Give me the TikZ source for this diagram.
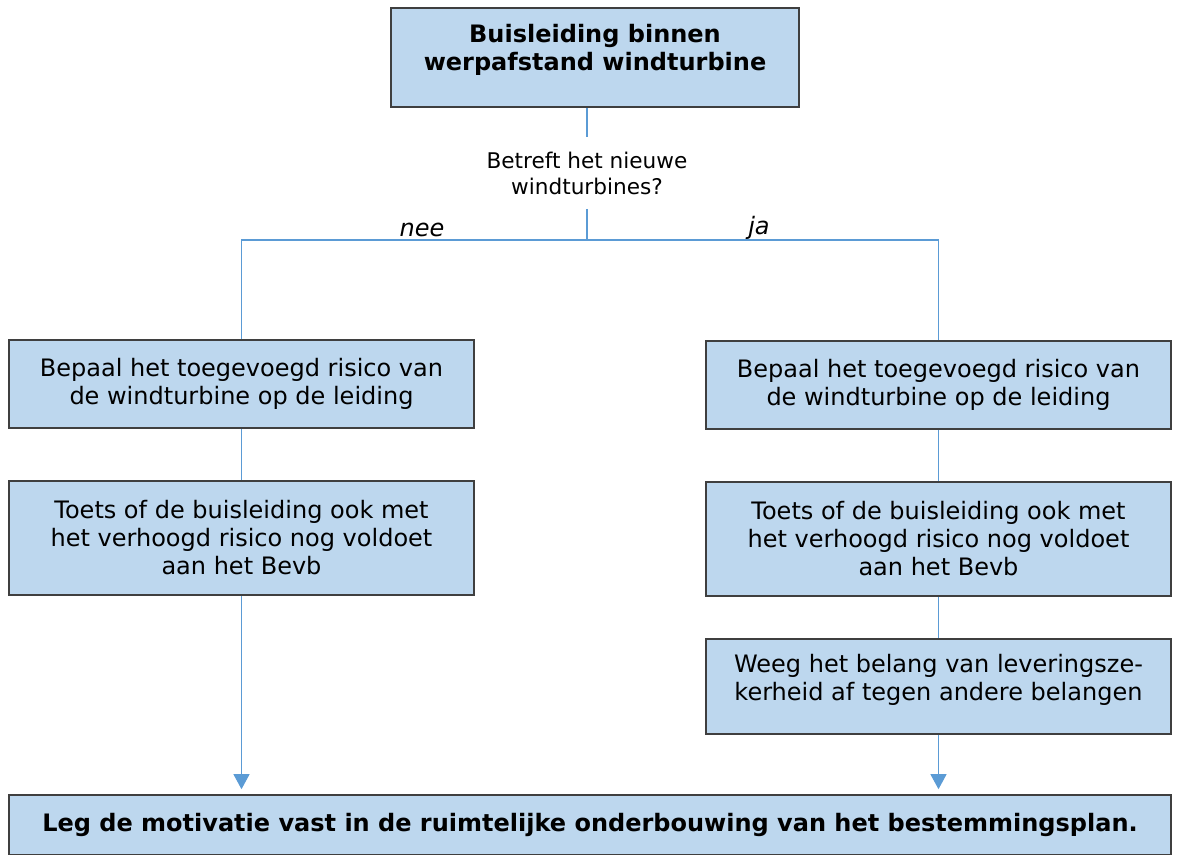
\documentclass[tikz,border=0pt]{standalone}
\usepackage{fontspec}
\setmainfont{DejaVu Sans}
\usetikzlibrary{arrows.meta,positioning}
\definecolor{box-fill}{HTML}{BDD7EE}
\definecolor{box-line}{HTML}{3F3F3F}
\definecolor{link-blue}{HTML}{5B9BD5}

\begin{document}
\begin{tikzpicture}[x=0.5pt,y=-0.5pt,
  stepbox/.style={draw=box-line,line width=0.8pt,fill=box-fill,align=center,
    inner sep=0pt,font=\fontsize{12}{14}\selectfont},
  sidebox/.style={stepbox,minimum width=232.5pt},
  link/.style={draw=link-blue,line width=0.6pt},
  arrowlink/.style={link,-{Triangle[width=8pt,length=7.5pt]},shorten >=2.5pt},
  answer/.style={font=\fontsize{12}{14}\selectfont\itshape,inner sep=0pt}]
  \useasboundingbox (0,0) rectangle (1180,855);
  % top and question
  \node[stepbox,minimum width=204pt,minimum height=49.5pt,font=\fontsize{12}{14}\selectfont\bfseries]
    (start) at (595,57.5) {Buisleiding binnen\\werpafstand windturbine\rule[-10pt]{0pt}{10pt}};
  \node[align=center,inner sep=7pt,font=\fontsize{10.8}{13}\selectfont] (question) at (587,173)
    {Betreft het nieuwe\\windturbines?};
  \coordinate (split) at (587,240);
  % left branch
  \node[sidebox,minimum height=44pt] (left1) at (241.5,384)
    {Bepaal het toegevoegd risico van\\de windturbine op de leiding};
  \node[sidebox,minimum height=57pt] (left2) at (241.5,538)
    {Toets of de buisleiding ook met\\het verhoogd risico nog voldoet\\aan het Bevb};
  % right branch
  \node[sidebox,minimum height=44pt] (right1) at (938.5,385)
    {Bepaal het toegevoegd risico van\\de windturbine op de leiding};
  \node[sidebox,minimum height=57pt] (right2) at (938.5,539)
    {Toets of de buisleiding ook met\\het verhoogd risico nog voldoet\\aan het Bevb};
  \node[sidebox,minimum height=47.5pt] (right3) at (938.5,686.5)
    {Weeg het belang van leveringsze-\\kerheid af tegen andere belangen\rule[-9pt]{0pt}{9pt}};
  % end
  \node[stepbox,minimum width=581pt,minimum height=30pt,font=\fontsize{12}{14}\selectfont\bfseries]
    (finish) at (590,825) {Leg de motivatie vast in de ruimtelijke onderbouwing van het bestemmingsplan.};
  \node[answer] (nee) at (422,230) {nee};
  \node[answer] (ja) at (759,228) {ja};
  % connectors
  \draw[link] (question.north |- start.south) -- (question);
  \draw[link] (question) -- (split);
  \draw[link] (left1.north) |- (split) -| (right1.north);
  \draw[link] (left1) -- (left2);
  \draw[link] (right1) -- (right2);
  \draw[link] (right2) -- (right3);
  \draw[arrowlink] (left2.south) -- (left2.south |- finish.north);
  \draw[arrowlink] (right3.south) -- (right3.south |- finish.north);
\end{tikzpicture}
\end{document}
